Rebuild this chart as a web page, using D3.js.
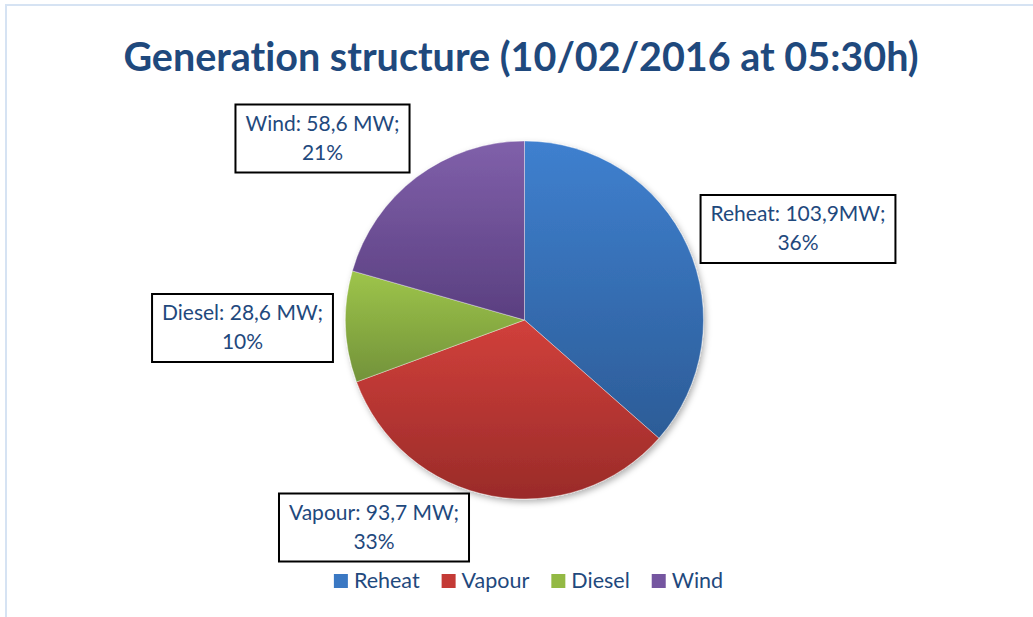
<!DOCTYPE html>
<html>
<head>
<meta charset="utf-8">
<script src="https://cdn.jsdelivr.net/npm/d3@7"></script>
<style>
  html, body { margin: 0; padding: 0; background: #fff; }
  svg { display: block; }
  text { font-family: Lato, "Open Sans", sans-serif; font-variant-ligatures: none; }
</style>
</head>
<body>
<div id="main"></div>
<script>
(function() {
  const title = "Generation structure (10/02/2016 at 05:30h)";
  const categories = ["Reheat", "Vapour", "Diesel", "Wind"];
  const values = [103.9, 93.7, 28.6, 58.6];
  const valueText = ["103,9MW", "93,7 MW", "28,6 MW", "58,6 MW"];
  const colorsTop = ["#3f80cf", "#d1403b", "#9ec54a", "#8060aa"];
  const colorsBottom = ["#2c5c97", "#9a2b29", "#72923a", "#5a3f80"];
  const legendColors = ["#3a78c3", "#c43a36", "#93b944", "#7556a0"];

  const width = 1033, height = 617;
  const cx = 524.5, cy = 320, radius = 179;
  const textColor = "#1f497d";

  // label box centres, placed by hand like the original chart
  const labelCenters = [[798, 229], [374, 527.5], [242.5, 328], [322.5, 138.5]];

  const svg = d3.select("#main")
    .append("svg")
    .attr("width", width)
    .attr("height", height);

  const defs = svg.append("defs");

  categories.forEach((c, i) => {
    const g = defs.append("linearGradient")
      .attr("id", "grad" + i)
      .attr("x1", 0).attr("y1", 0).attr("x2", 0).attr("y2", 1);
    g.append("stop").attr("offset", "0%").attr("stop-color", colorsTop[i]);
    g.append("stop").attr("offset", "100%").attr("stop-color", colorsBottom[i]);
  });

  const shadow = defs.append("filter")
    .attr("id", "shadow")
    .attr("x", "-10%").attr("y", "-10%")
    .attr("width", "130%").attr("height", "130%");
  shadow.append("feDropShadow")
    .attr("dx", 2).attr("dy", 3)
    .attr("stdDeviation", 3)
    .attr("flood-color", "#000")
    .attr("flood-opacity", 0.3);

  // outer chart-area border (light blue)
  svg.append("rect")
    .attr("x", 6).attr("y", 5)
    .attr("width", width + 20).attr("height", height + 20)
    .attr("fill", "none")
    .attr("stroke", "#d6e3f3")
    .attr("stroke-width", 2);

  svg.append("text")
    .attr("x", 521)
    .attr("y", 71)
    .attr("text-anchor", "middle")
    .attr("font-size", "39.5px")
    .attr("font-weight", "bold")
    .attr("fill", textColor)
    .text(title);

  const pie = d3.pie().sort(null).value(d => d);
  const arcs = pie(values);
  const arc = d3.arc().innerRadius(0).outerRadius(radius);
  const total = d3.sum(values);

  const pieG = svg.append("g")
    .attr("transform", `translate(${cx},${cy})`)
    .attr("filter", "url(#shadow)");

  pieG.selectAll("path")
    .data(arcs)
    .join("path")
    .attr("d", arc)
    .attr("fill", (d, i) => `url(#grad${i})`)
    .attr("stroke", "rgba(255,255,255,0.5)")
    .attr("stroke-width", 0.75);

  // data labels in boxes
  const fontSize = 21;
  const lineGap = 29;
  const padX = 10;
  const boxH = 68;

  const labels = svg.append("g")
    .selectAll("g")
    .data(arcs)
    .join("g")
    .attr("transform", (d, i) => `translate(${labelCenters[i][0]},${labelCenters[i][1]})`);

  labels.each(function(d, i) {
    const g = d3.select(this);
    const pct = d3.format(".0f")(d.value / total * 100) + "%";
    const line1 = `${categories[i]}: ${valueText[i]};`;
    const rect = g.append("rect").attr("fill", "#fff").attr("stroke", "#000").attr("stroke-width", 2);
    const t1 = g.append("text")
      .attr("text-anchor", "middle")
      .attr("y", -34 + 26)
      .attr("font-size", fontSize + "px")
      .attr("fill", textColor)
      .text(line1);
    g.append("text")
      .attr("text-anchor", "middle")
      .attr("y", -34 + 26 + lineGap)
      .attr("font-size", fontSize + "px")
      .attr("fill", textColor)
      .text(pct);
    const w = t1.node().getComputedTextLength() + padX * 2;
    rect.attr("x", -w / 2).attr("y", -boxH / 2).attr("width", w).attr("height", boxH);
  });

  // legend
  const legend = svg.append("g");
  const sq = 14, sqGap = 6, itemGap = 22;
  const items = legend.selectAll("g")
    .data(categories)
    .join("g");
  items.append("rect")
    .attr("width", sq).attr("height", sq)
    .attr("y", -sq / 2)
    .attr("fill", (d, i) => legendColors[i]);
  items.append("text")
    .attr("x", sq + sqGap)
    .attr("y", 7)
    .attr("font-size", "21.5px")
    .attr("fill", textColor)
    .text(d => d);

  let xPos = 0;
  items.each(function() {
    const w = sq + sqGap + d3.select(this).select("text").node().getComputedTextLength();
    d3.select(this).attr("transform", `translate(${xPos},0)`);
    xPos += w + itemGap;
  });
  const legendW = xPos - itemGap;
  legend.attr("transform", `translate(${528.5 - legendW / 2},581)`);
})();
</script>
</body>
</html>
